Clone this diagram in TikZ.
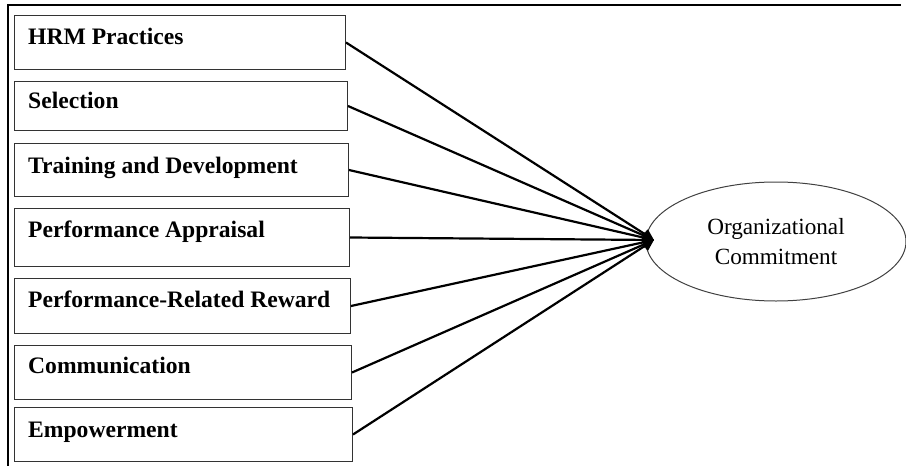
\documentclass[tikz,border=0pt]{standalone}
\usepackage{fontspec}
\setmainfont{Liberation Serif}
\usetikzlibrary{arrows.meta,shapes.geometric,calc}
\tikzset{
  factor/.style={draw=black!80, line width=1pt, rectangle, inner sep=0pt, anchor=north west},
  factortext/.style={font=\fontsize{23.6}{28}\selectfont\bfseries, inner sep=0pt, anchor=base west},
  outcome/.style={draw=black!75, line width=1pt, ellipse, inner sep=0pt, minimum width=260pt, minimum height=119pt,
     font=\fontsize{23.2}{30}\selectfont, align=center},
  link/.style={line width=2.2pt, black, -{Triangle[length=11pt,width=11pt]}},
  frame/.style={line width=1.3pt, black}
}
\begin{document}
\begin{tikzpicture}[x=1pt,y=-1pt]
\useasboundingbox (0,0) rectangle (906,466);
\draw[frame] (8,466) -- (8,5) -- (901,5);
\node[factor, minimum width=331pt, minimum height=54pt] (b1) at (14,15) {};
\node[factor, minimum width=333pt, minimum height=49pt] (b2) at (14,81) {};
\node[factor, minimum width=334pt, minimum height=53pt] (b3) at (14,143) {};
\node[factor, minimum width=335pt, minimum height=58pt] (b4) at (14,208) {};
\node[factor, minimum width=336pt, minimum height=55pt] (b5) at (14,278) {};
\node[factor, minimum width=337pt, minimum height=54pt] (b6) at (14,345) {};
\node[factor, minimum width=338pt, minimum height=54pt] (b7) at (14,407) {};
\node[factortext] (t1) at ($(b1.north west)+(14,29)$) {HRM Practices};
\node[factortext] (t2) at ($(b2.north west)+(14,27)$) {Selection};
\node[factortext] (t3) at ($(b3.north west)+(14,30)$) {Training and Development};
\node[factortext] (t4) at ($(b4.north west)+(14,29)$) {Performance Appraisal};
\node[factortext] (t5) at ($(b5.north west)+(14,29)$) {Performance-Related Reward};
\node[factortext] (t6) at ($(b6.north west)+(14,28)$) {Communication};
\node[factortext] (t7) at ($(b7.north west)+(14,30)$) {Empowerment};
\node[outcome] (oc) at (776,241.5) {Organizational\\Commitment};
\coordinate (tip) at (654,240);
\foreach \b in {b1,b2,b3,b4,b5,b6,b7}
  \draw[link] (\b.east) -- (tip);
\end{tikzpicture}
\end{document}
